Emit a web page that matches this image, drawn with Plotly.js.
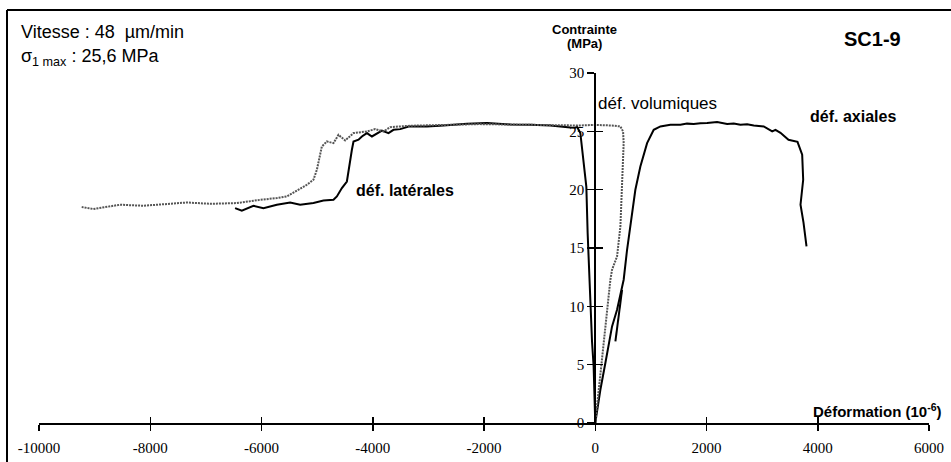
<!DOCTYPE html>
<html>
<head>
<meta charset="utf-8">
<script src="https://cdn.plot.ly/plotly-3.0.1.min.js"></script>
<style>html,body{margin:0;padding:0;background:#fff;}#chart{width:951px;height:462px;}</style>
</head>
<body>
<div id="chart"></div>
<script>
// ---- data (strain in 10^-6, stress in MPa) ----
const axialX = [0, 92, 182, 302, 392, 452, 511, 572, 662, 721, 811, 932, 1051, 1171, 1351, 1531, 1650, 1770, 1890, 2011, 2191, 2290, 2371, 2490, 2610, 2730, 2850, 3029, 3181, 3240, 3330, 3474, 3636, 3720, 3738, 3690, 3744, 3798];
const axialY = [0, 2.85, 5.14, 8.28, 9.71, 11.14, 12.28, 14.85, 17.7, 19.99, 21.99, 23.99, 25.13, 25.42, 25.56, 25.56, 25.66, 25.62, 25.7, 25.71, 25.79, 25.66, 25.62, 25.68, 25.56, 25.6, 25.5, 25.42, 24.99, 25.13, 24.87, 24.27, 24.1, 22.99, 20.85, 18.71, 17.17, 15.13];

const axialUnloadX = [362, 421, 482];
const axialUnloadY = [6.99, 9.0, 11.42];

const lateralX = [0, -10, -29, -58, -88, -119, -137, -160, -214, -268, -327, -358, -448, -808, -1167, -1527, -1947, -2306, -2727, -3026, -3357, -3506, -3627, -3717, -3835, -3925, -4015, -4105, -4195, -4256, -4346, -4375, -4418, -4465, -4555, -4645, -4706, -4886, -5066, -5305, -5485, -5724, -5965, -6145, -6354, -6475];
const lateralY = [0, 2.28, 4.85, 6.99, 10.56, 12.87, 16.3, 20.24, 22.8, 24.86, 25.4, 25.3, 25.33, 25.5, 25.56, 25.59, 25.71, 25.65, 25.5, 25.42, 25.42, 25.19, 25.13, 24.85, 25.07, 24.85, 24.56, 24.85, 24.56, 24.28, 24.13, 23.42, 21.99, 20.7, 20.14, 19.42, 19.13, 19.07, 18.85, 18.71, 18.9, 18.71, 18.42, 18.62, 18.19, 18.42];

const volX = [0, 32, 61, 122, 182, 272, 302, 392, 452, 482, 511, 500, 452, 300, 0, -300, -900, -1500, -2100, -2700, -3326, -3686, -3807, -3956, -4105, -4346, -4496, -4616, -4706, -4825, -4915, -5005, -5066, -5185, -5426, -5545, -5724, -6025, -6444, -6925, -7344, -8124, -8543, -9024, -9232];
const volY = [0, 1.42, 2.85, 5.71, 8.57, 12.28, 13.14, 14.28, 16.85, 20.57, 23.99, 24.99, 25.42, 25.5, 25.55, 25.5, 25.55, 25.6, 25.62, 25.55, 25.48, 25.36, 24.99, 25.19, 24.99, 24.85, 24.22, 24.7, 23.99, 24.13, 23.7, 21.7, 20.85, 20.42, 19.76, 19.42, 19.28, 19.13, 18.85, 18.79, 18.9, 18.62, 18.71, 18.34, 18.51];

const xTicks = [-10000, -8000, -6000, -4000, -2000, 0, 2000, 4000, 6000];
const yTicks = [0, 5, 10, 15, 20, 25, 30];
const xRange = [-10000, 6000];
const yRange = [0, 30];

// ---- layout geometry ----
const W = 951, H = 462;
const ML = 39, MR = 22, MT = 73, MB = 39;
const PW = W - ML - MR, PH = H - MT - MB;
const px = x => (x - ML) / PW;
const py = y => (H - MB - y) / PH;
const yAxisPos = (0 - xRange[0]) / (xRange[1] - xRange[0]);

const sans = 'Liberation Sans';
const serif = 'Liberation Serif, Times New Roman, Times, serif';

const solid = {color: '#000', width: 2};
const traces = [
  {x: lateralX, y: lateralY, mode: 'lines', line: solid, hoverinfo: 'skip'},
  {x: axialX, y: axialY, mode: 'lines', line: solid, hoverinfo: 'skip'},
  {x: axialUnloadX, y: axialUnloadY, mode: 'lines', line: solid, hoverinfo: 'skip'},
  {x: volX, y: volY, mode: 'lines', line: {color: '#555', width: 2, dash: '2px,1px'}, hoverinfo: 'skip'},
  {x: axialX.slice(0, 1), y: axialY.slice(0, 1), xaxis: 'x2', yaxis: 'y2', mode: 'markers', marker: {opacity: 0}, hoverinfo: 'skip'}
];

function ann(text, x, y, size, xanchor, extra) {
  return Object.assign({text: text, x: px(x), y: py(y), xref: 'paper', yref: 'paper',
    xanchor: xanchor, yanchor: 'middle', showarrow: false,
    font: {family: sans, size: size, color: '#000'}}, extra || {});
}

const tickFont = {family: serif, size: 15, color: '#000'};

const layout = {
  width: W, height: H,
  margin: {l: ML, r: MR, t: MT, b: MB, pad: 0},
  paper_bgcolor: '#fff', plot_bgcolor: '#fff',
  showlegend: false,
  xaxis: {range: xRange, tickmode: 'array', tickvals: xTicks, ticktext: xTicks.map(String), ticks: 'outside', ticklen: 6, tickwidth: 1.5,
    tickcolor: '#000', showline: true, linewidth: 2, linecolor: '#000', showgrid: false, zeroline: false,
    tickfont: tickFont, ticklabelstandoff: 4, fixedrange: true},
  yaxis: {range: yRange, tickmode: 'array', tickvals: yTicks, ticks: 'outside', ticklen: 7, tickwidth: 1.5, tickcolor: '#000',
    showline: true, linewidth: 2, linecolor: '#000', showgrid: false, zeroline: false,
    anchor: 'free', position: yAxisPos, tickfont: tickFont, fixedrange: true},
  xaxis2: {range: xRange, tickmode: 'array', tickvals: xTicks, overlaying: 'x', anchor: 'y2', ticks: 'inside', ticklen: 6, tickwidth: 1.5,
    tickcolor: '#000', showticklabels: false, showline: false, showgrid: false, zeroline: false, fixedrange: true},
  yaxis2: {range: yRange, tickmode: 'array', tickvals: yTicks, overlaying: 'y', anchor: 'free', position: yAxisPos, ticks: 'inside', ticklen: 7,
    tickwidth: 1.5, tickcolor: '#000', showticklabels: false, showline: false, showgrid: false, zeroline: false, fixedrange: true},
  annotations: [
    ann('Vitesse : 48\u00a0\u00a0\u00b5m/min', 19, 32, 18, 'left'),
    ann('\u03c3<sub>1 max</sub> : 25,6 MPa', 19, 58, 18, 'left'),
    ann('<b>SC1-9</b>', 872, 39, 20, 'center'),
    ann('<b>Contrainte</b>', 584, 29, 13, 'center'),
    ann('<b>(MPa)</b>', 584, 44, 13, 'center'),
    ann('d\u00e9f. volumiques', 596, 104, 17, 'left'),
    ann('<b>d\u00e9f. axiales</b>', 808, 116, 16, 'left'),
    ann('<b>d\u00e9f. lat\u00e9rales</b>', 354, 190, 16, 'left'),
    ann('<b>D\u00e9formation (10<sup>-6</sup>)</b>', 944, 410, 15, 'right')
  ],
  shapes: [
    {type: 'line', xref: 'paper', yref: 'paper', x0: px(7), x1: px(951), y0: py(10), y1: py(10), line: {color: '#000', width: 2}},
    {type: 'line', xref: 'paper', yref: 'paper', x0: px(7), x1: px(7), y0: py(10), y1: py(462), line: {color: '#000', width: 2}}
  ]
};

Plotly.newPlot('chart', traces, layout, {displayModeBar: false, staticPlot: true});
</script>
</body>
</html>
